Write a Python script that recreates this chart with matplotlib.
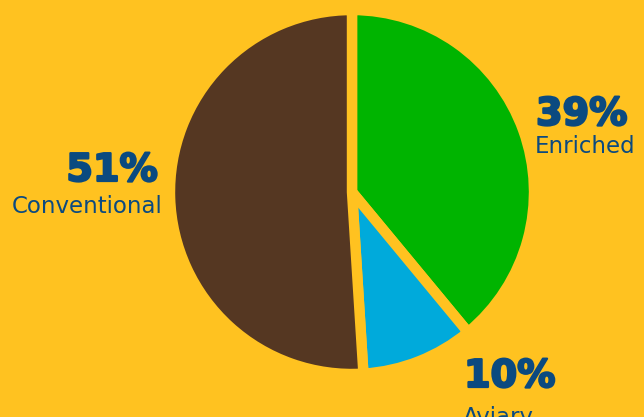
import matplotlib
matplotlib.use("Agg")
import matplotlib.pyplot as plt
import matplotlib.patheffects as pe

# housing system shares (%)
categories = ["Enriched", "Aviary", "Conventional"]
shares = [39, 10, 51]
colors = ["#00B400", "#00AADB", "#553722"]

bg = "#FFC220"
txt = "#0B4A80"

fig = plt.figure(figsize=(6.44, 4.17), dpi=100, facecolor=bg)
ax = fig.add_axes([0, 0, 1, 1])
ax.set_facecolor(bg)

# work in pixel units, y going up
H = 417
ax.pie(shares, colors=colors, startangle=90, counterclock=False,
       center=(352, H - 192), radius=182,
       wedgeprops=dict(edgecolor=bg, linewidth=7.5))
ax.set_xlim(0, 644)
ax.set_ylim(0, H)
ax.set_aspect("equal")
ax.axis("off")

# label positions (pixels): (x, pct baseline, name baseline, align)
label_pos = {
    "Enriched": (536, 125, 153, "left"),
    "Aviary": (464, 387, 424, "left"),
    "Conventional": (158, 181, 213, "right"),
}
heavy = [pe.withStroke(linewidth=1.6, foreground=txt)]
for cat, val in zip(categories, shares):
    x, yp, yn, ha = label_pos[cat]
    ax.text(x, H - yp, f"{val}%", ha=ha, va="baseline", color=txt,
            fontsize=27.5, fontweight="bold", family="DejaVu Sans",
            path_effects=heavy)
    ax.text(x + (5 if ha == "right" else -1), H - yn, cat, ha=ha, va="baseline",
            color=txt, fontsize=16.5, family="DejaVu Sans")

fig.savefig("out.png", dpi=100, facecolor=bg)
